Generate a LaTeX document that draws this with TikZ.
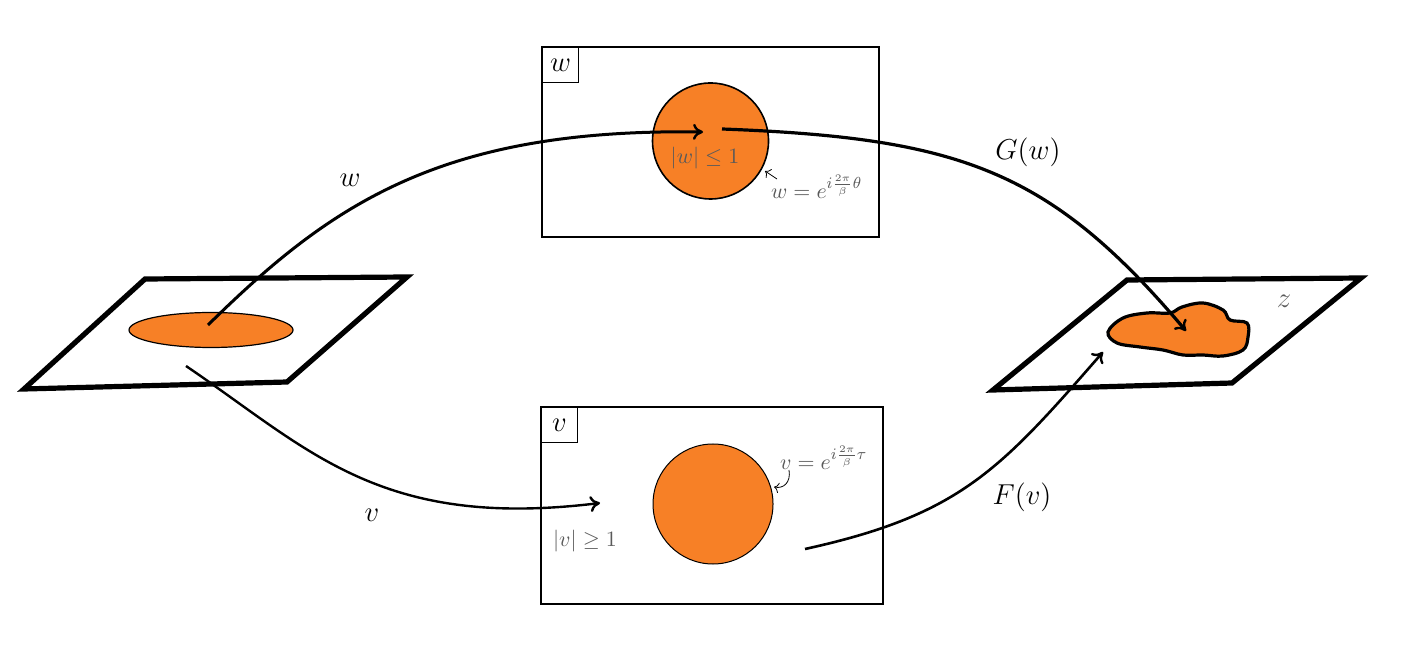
\documentclass[tikz,border=0pt]{standalone}
\usepackage{amsmath}
\usetikzlibrary{shapes.geometric,arrows.meta}
\definecolor{blorange}{RGB}{247,128,38}
\definecolor{txtgray}{RGB}{90,90,90}
\begin{document}
\begin{tikzpicture}[x=0.5pt,y=-0.5pt,
  plane/.style={draw=black,line width=2.6pt,line join=miter},
  region/.style={draw=black,fill=blorange,line width=0.6pt},
  mapline/.style={draw=black,line width=1.5pt,-{To[length=5pt,width=8pt,line width=1.2pt]}},
  lbl/.style={font=\Large},
  smalllbl/.style={font=\fontsize{11}{13}\selectfont,text=txtgray},
  tagbox/.style={draw=black,line width=0.5pt,inner sep=0pt,minimum width=18pt,minimum height=17.5pt,font=\Large,anchor=north west}]
\useasboundingbox (0,0) rectangle (1416,672);
% left plane
\draw[plane] (145,279) -- (407,277) -- (287,382) -- (24,389) -- cycle;
\node[region,ellipse,minimum width=82pt,minimum height=17.5pt,inner sep=0pt] (lell) at (211,330) {};
\coordinate (wstart) at (208,325);
\coordinate (vstart) at (186,366);
% right plane
\draw[plane] (1127,280) -- (1361,278) -- (1232,383) -- (993,390) -- cycle;
\draw[region,line width=1.6pt] plot[smooth cycle,tension=0.6] coordinates {
 (1108,332) (1123,318) (1147,313) (1170,313) (1182,307) (1203,303) (1223,310)
 (1230,320) (1247,323) (1248,337) (1243,350) (1223,356) (1203,355) (1183,355)
 (1163,350) (1140,347) (1117,343)};
\coordinate (gend) at (1186,331);
\coordinate (fend) at (1103,352);
\node[font=\Large,text=txtgray] (zl) at (1284,301) {$z$};
% top box
\draw[line width=1pt] (542,47) rectangle (879,237);
\node[tagbox] (wtag) at (542,47) {$w$};
\node[region,circle,minimum size=58pt,inner sep=0pt,line width=0.8pt] (wdisk) at (710.5,141) {};
\node[smalllbl] (wineq) at (705,158) {$|w|\le 1$};
\node[smalllbl,anchor=west] (wbd) at (764,187) {$w=e^{i\frac{2\pi}{\beta}\theta}$};
\coordinate (wbdA) at (777,179);
\coordinate (wbdB) at (765,171);
\draw[line width=0.4pt,->] (wbdA) -- (wbdB);
\coordinate (wend) at (703,132);
\coordinate (gstart) at (722,129);
% bottom box
\draw[line width=0.6pt] (541,407) rectangle (883,604);
\node[tagbox] (vtag) at (541,407) {$v$};
\node[region,circle,minimum size=60pt,inner sep=0pt,line width=0.5pt] (vdisk) at (713,504) {};
\node[smalllbl,anchor=west] (vbd) at (773,458) {$v=e^{i\frac{2\pi}{\beta}\tau}$};
\node[smalllbl] (vineq) at (585,541) {$|v|\ge 1$};
\coordinate (vbdA) at (789,470);
\coordinate (vbdB) at (774,487);
\draw[line width=0.4pt,->] (vbdA) .. controls (791,482) and (784,489) .. (vbdB);
\coordinate (vend) at (600,503);
\coordinate (fstart) at (805,549);
% maps
\draw[mapline] (wstart) .. controls (330,205) and (440,128) .. (wend);
\draw[mapline,line width=1.6pt] (gstart) .. controls (960,138) and (1050,170) .. (gend);
\draw[mapline,line width=1.2pt] (vstart) .. controls (310,450) and (380,530) .. (vend);
\draw[mapline,line width=1.3pt] (fstart) .. controls (960,515) and (1000,470) .. (fend);
% labels
\node[lbl] (wl) at (350,180) {$w$};
\node[lbl] (gl) at (1028,152) {$G(w)$};
\node[lbl] (vl) at (372,515) {$v$};
\node[lbl] (fl) at (1022,497) {$F(v)$};
\end{tikzpicture}
\end{document}
